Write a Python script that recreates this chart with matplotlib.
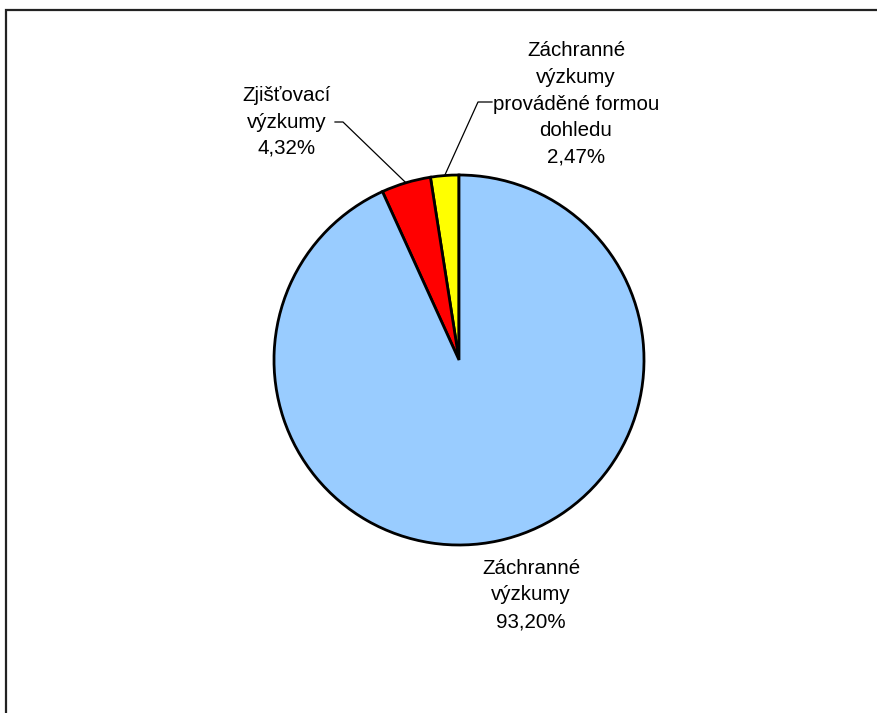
import numpy as np
import matplotlib
matplotlib.use("Agg")
import matplotlib.pyplot as plt
from matplotlib.patches import Rectangle

plt.rcParams['font.family'] = ['Liberation Sans', 'DejaVu Sans']

# Data (order: counter-clockwise from the top)
categories = ["Záchranné\nvýzkumy\nprováděné formou\ndohledu",
              "Zjišťovací\nvýzkumy",
              "Záchranné\nvýzkumy"]
values = [2.47, 4.32, 93.20]
pct_labels = ["2,47%", "4,32%", "93,20%"]
colors = ["#FFFF00", "#FF0000", "#99CCFF"]

W, H = 877, 713
fig = plt.figure(figsize=(W / 100, H / 100), dpi=100)
fig.patch.set_facecolor("white")

# chart-area frame
fig.add_artist(Rectangle((6 / W, -0.05), 1.2, (H - 10) / H + 0.05,
                         transform=fig.transFigure, fill=False,
                         edgecolor="#222222", linewidth=1.6))

cx, cy, r = 459, 360, 185
ax = fig.add_axes([(cx - r) / W, (H - cy - r) / H, 2 * r / W, 2 * r / H])
wedges, _ = ax.pie(values, colors=colors, startangle=90, counterclock=True,
                   radius=1, wedgeprops=dict(edgecolor="black", linewidth=2.0))
ax.set_xlim(-1, 1)
ax.set_ylim(-1, 1)
ax.set_aspect("auto")
ax.axis("off")


def px(x, y):
    return (x - cx) / r, (cy - y) / r


fs = 14.8
ls = 1.5
# label positions (layout)
label_pos = [px(576, 104), px(287, 122), px(531, 595)]
for cat, pct, pos in zip(categories, pct_labels, label_pos):
    ax.text(pos[0], pos[1], cat + "\n" + pct, ha="center", va="center",
            fontsize=fs, linespacing=ls, clip_on=False)

# leader lines from wedge mid-angles
mids = [np.deg2rad((w.theta1 + w.theta2) / 2) for w in wedges]
# yellow
mx, my = np.cos(mids[0]), np.sin(mids[0])
e1 = px(478, 102)
e2 = px(492, 102)
ax.plot([mx, e1[0], e2[0]], [my, e1[1], e2[1]], color="black", lw=0.9,
        clip_on=False)
# red
mx, my = np.cos(mids[1]), np.sin(mids[1])
e1 = px(343, 122)
e2 = px(335, 122)
ax.plot([mx, e1[0], e2[0]], [my, e1[1], e2[1]], color="black", lw=0.9,
        clip_on=False)

fig.savefig("out.png", dpi=100)
